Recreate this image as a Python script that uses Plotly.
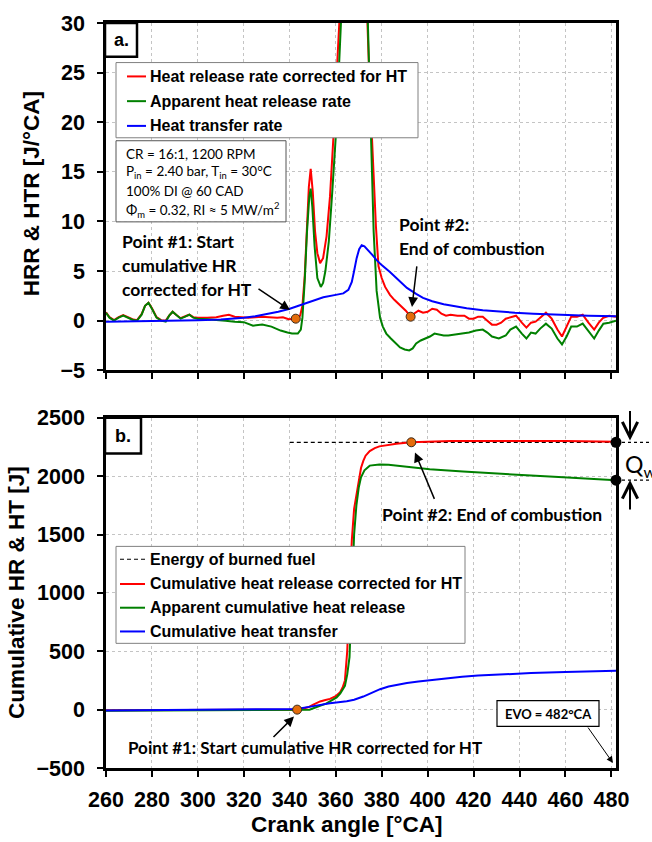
import plotly.graph_objects as go

# ---------------- (a) heat release / heat transfer rates [J/°CA] ----------------
ca_hrr_cor = [
    260, 261.5, 263.5, 265.5, 267.5, 269.5, 271.5, 273.5, 275.5, 277,
    278.5, 280, 282, 284, 286, 287.5, 289, 290.5, 292.5, 294.5,
    296.3, 298, 300, 304, 308, 311, 313.5, 316, 319, 322,
    325, 328, 331, 334.5, 337, 339.5, 342.6, 344.5, 345.5, 346.5,
    347.5, 348.3, 349.1, 350, 351, 352, 353.2, 354.5, 356, 357.5,
    359, 360.5, 362, 364, 366, 368, 370, 372, 373.5, 374.7,
    375.7, 376.5, 377.5, 378.6, 380, 381.5, 383.6, 385.5, 388, 390.5,
    392.6, 394, 396, 398, 400, 402, 404, 406, 408, 410,
    413, 416, 418, 420, 422, 424, 426, 428, 430, 432,
    434, 436, 438.5, 441, 443, 445, 447, 449, 451.5, 454,
    456.5, 458.5, 460.5, 462.5, 465, 467.5, 470, 472.5, 474.5, 476.5,
    479, 482]
hrr_corrected = [
    0.85, 0.35, 0.05, 0.35, 0.55, 0.35, 0.15, 0.05, 0.65, 1.5,
    1.8, 1.25, 0.35, 0.05, 0.0, 0.5, 0.9, 0.6, 0.25, 0.45,
    0.6, 0.35, 0.3, 0.3, 0.35, 0.5, 0.6, 0.4, 0.35, 0.3,
    0.35, 0.4, 0.35, 0.3, 0.35, 0.15, 0.2, 0.5, 1.5, 4.5,
    9.5, 13.5, 15.3, 13.0, 9.0, 6.8, 5.8, 6.3, 8.5, 12.5,
    18.5, 25, 32, 50, 70, 80, 70, 48, 32, 24,
    18.5, 14, 9.5, 5.5, 4.3, 3.4, 2.6, 2.1, 1.6, 1.0,
    0.4, 0.7, 1.0, 0.8, 0.9, 1.2, 1.1, 0.7, 0.5, 0.6,
    0.5, 0.5, 0.2, 0.2, 0.4, 0.4, 0.0, -0.4, -0.4, -0.2,
    0.2, 0.3, 0.5, -0.2, -0.7, -0.2, -0.1, 0.3, 0.8, 0.2,
    -0.9, -1.6, -0.6, 0.4, 0.4, 0.6, -0.2, -0.9, -0.2, 0.3,
    0.5, 0.4]

ca_hrr_app = [
    260, 261.5, 263.5, 265.5, 267.5, 269.5, 271.5, 273.5, 275.5, 277,
    278.5, 280, 282, 284, 286, 287.5, 289, 290.5, 292.5, 294.5,
    296.3, 298, 300, 304, 308, 312, 316, 320, 324, 328,
    332, 336, 339, 341, 343.5, 344.8, 345.5, 346.5, 347.5, 348.5,
    349.1, 349.8, 350.8, 352, 353.5, 354.5, 355.5, 357, 358.5, 360,
    361.5, 363, 365, 367, 369, 371, 373, 374.3, 375.3, 376.5,
    377.8, 379.3, 380.5, 382, 384, 386, 388, 390, 392, 393.5,
    395, 397, 399, 401, 403, 405, 407, 409, 412, 415,
    418, 421, 424, 426, 428, 431, 434, 436, 438.5, 441,
    443, 445, 447, 449, 451.5, 454, 456.5, 458.5, 460.5, 462.5,
    465, 467.5, 470, 472.5, 474.5, 476.5, 479, 482]
hrr_apparent = [
    0.8, 0.3, 0.0, 0.3, 0.5, 0.3, 0.1, 0.0, 0.6, 1.5,
    1.8, 1.2, 0.3, 0.0, -0.1, 0.5, 0.9, 0.6, 0.2, 0.4,
    0.6, 0.3, 0.2, 0.15, 0.1, 0.0, -0.1, -0.15, -0.5, -0.4,
    -0.6, -1.0, -1.2, -1.3, -1.3, -0.9, 0.3, 4.0, 9.0, 12.5,
    13.3, 11.5, 7.5, 4.3, 3.4, 3.8, 5.0, 8.0, 13.0, 18.5,
    26, 33, 45, 60, 65, 55, 38, 27, 18, 9,
    3, 0.3, -0.6, -1.3, -1.8, -2.3, -2.7, -2.9, -3.0, -2.8,
    -2.3, -2.0, -1.8, -1.6, -1.3, -1.4, -1.5, -1.5, -1.4, -1.3,
    -1.2, -1.0, -0.9, -1.2, -1.6, -1.8, -1.5, -0.9, -0.6, -1.3,
    -1.8, -1.2, -1.3, -0.8, -0.3, -0.8, -1.8, -2.4, -1.6, -0.6,
    -0.6, -0.3, -1.0, -1.8, -1.0, -0.3, -0.2, 0.0]

ca_htr = [260, 270, 280, 290, 300, 310, 315, 320, 325, 330,
          335, 340, 344, 348.8, 354.6, 360, 363.3, 365.5, 367, 368,
          369.1, 370.2, 371.3, 372.5, 374.2, 376, 377.8, 380, 383.6, 388,
          391, 395, 398, 402, 407, 412, 417, 424, 431, 438,
          446, 453, 460, 470, 482]
htr = [-0.1, -0.08, -0.05, 0.0, 0.05, 0.12, 0.2, 0.3, 0.45, 0.65,
       0.9, 1.2, 1.5, 1.9, 2.35, 2.6, 2.75, 3.1, 3.9, 5.0,
       6.3, 7.2, 7.6, 7.5, 7.1, 6.6, 6.1, 5.6, 4.9, 3.9,
       3.3, 2.7, 2.3, 1.95, 1.65, 1.45, 1.25, 1.05, 0.9, 0.8,
       0.7, 0.62, 0.55, 0.5, 0.45]

# start of cumulative HR (point #1) and end of combustion (point #2)
pts_ca_a = [342.6, 392.6]
pts_val_a = [0.2, 0.4]

# ---------------- (b) cumulative heat release / heat transfer [J] ----------------
ca_cum_cor = [260, 280, 300, 320, 335, 343.2, 345, 348, 350, 353.2,
              355.5, 357.5, 360, 361.9, 363, 364, 365, 366, 367, 368,
              369, 370, 371, 372, 373, 374.8, 377, 379, 383, 386.4,
              392.9, 400, 410, 420, 440, 460, 482]
cum_hr_corrected = [-5, -5, -3, -2, -1, 0, 5, 20, 40, 70,
                    82, 92, 115, 150, 190, 250, 500, 1000, 1450, 1720,
                    1830, 1950, 2070, 2130, 2175, 2215, 2240, 2255, 2268, 2278,
                    2290, 2296, 2300, 2302, 2302, 2300, 2295]

ca_cum_app = [260, 280, 300, 320, 340, 345, 348.6, 352, 356, 360.4,
              362, 364, 365, 366, 367, 368, 369, 370, 371, 372.5,
              374.8, 377, 379, 383, 386.4, 393, 400.9, 415.4, 430, 445,
              459, 470, 482]
cum_hr_apparent = [-10, -8, -6, -6, -6, -4, 0, 25, 53, 104,
                   140, 203, 300, 450, 1000, 1500, 1750, 1900, 1990, 2050,
                   2090, 2097, 2100, 2097, 2090, 2075, 2060, 2040, 2020, 2005,
                   1990, 1980, 1965]

ca_cum_ht = [260, 280, 300, 320, 330, 337, 343, 350.3, 357.5, 364.8,
             368, 372, 376, 379.3, 383, 386.4, 391, 396, 401, 408,
             415, 422, 430, 445, 460, 470, 482]
cum_ht = [-8, -6, -3, 0, 2, 4, 6, 30, 55, 72,
          85, 112, 145, 175, 198, 212, 228, 240, 252, 268,
          282, 292, 300, 313, 322, 327, 332]

ca_fuel = [340, 482]
fuel_energy = 2290

pts_ca_b = [343.2, 392.9]
pts_val_b = [0, 2290]

evo_ca = 482
qw_levels = [2290, 1965]

ca_ticks = list(range(260, 481, 20))

# ---------------- styling ----------------
RED, GREEN, BLUE = "#ff0000", "#008000", "#0000ff"
ORANGE = "#e46c0a"
ARIAL = "Liberation Sans, Arial, sans-serif"
CAL = "Lato, Carlito, Calibri, sans-serif"

W, H = 652, 842
ML, MR, MT, MB = 106, 36, 15, 74
PW, PH = W - ML - MR, H - MT - MB


def fx(p):
    return (p - ML) / PW


def fy(p):
    return (H - MB - p) / PH


fig = go.Figure()

# panel (a)
fig.add_trace(go.Scatter(x=ca_hrr_cor, y=hrr_corrected, mode="lines",
                         line=dict(color=RED, width=2), xaxis="x", yaxis="y"))
fig.add_trace(go.Scatter(x=ca_hrr_app, y=hrr_apparent, mode="lines",
                         line=dict(color=GREEN, width=2), xaxis="x", yaxis="y"))
fig.add_trace(go.Scatter(x=ca_htr, y=htr, mode="lines",
                         line=dict(color=BLUE, width=2), xaxis="x", yaxis="y"))
fig.add_trace(go.Scatter(x=pts_ca_a, y=pts_val_a, mode="markers",
                         marker=dict(color=ORANGE, size=9, line=dict(color="#3a2a1a", width=1)),
                         xaxis="x", yaxis="y"))

# panel (b)
fig.add_trace(go.Scatter(x=ca_fuel, y=[fuel_energy] * len(ca_fuel), mode="lines",
                         line=dict(color="black", width=1.2, dash="4px,3px"),
                         xaxis="x2", yaxis="y2"))
fig.add_trace(go.Scatter(x=ca_cum_cor, y=cum_hr_corrected, mode="lines",
                         line=dict(color=RED, width=2), xaxis="x2", yaxis="y2"))
fig.add_trace(go.Scatter(x=ca_cum_app, y=cum_hr_apparent, mode="lines",
                         line=dict(color=GREEN, width=2), xaxis="x2", yaxis="y2"))
fig.add_trace(go.Scatter(x=ca_cum_ht, y=cum_ht, mode="lines",
                         line=dict(color=BLUE, width=2), xaxis="x2", yaxis="y2"))
fig.add_trace(go.Scatter(x=pts_ca_b, y=pts_val_b, mode="markers",
                         marker=dict(color=ORANGE, size=9, line=dict(color="#3a2a1a", width=1)),
                         xaxis="x2", yaxis="y2"))
fig.add_trace(go.Scatter(x=[evo_ca] * len(qw_levels), y=qw_levels, mode="markers",
                         marker=dict(color="black", size=11), cliponaxis=False,
                         xaxis="x2", yaxis="y2"))

axis_common = dict(
    showline=True, linecolor="black", linewidth=2.5, mirror=True,
    ticks="outside", ticklen=6, tickwidth=2, tickcolor="black",
    showgrid=True, gridcolor="#c4c4c4", gridwidth=1, griddash="3px,3px",
    zeroline=False,
    tickfont=dict(family=ARIAL, size=21.5, color="black", weight="bold"),
)

fig.update_layout(
    width=W, height=H, autosize=False,
    margin=dict(l=ML, r=MR, t=MT, b=MB),
    paper_bgcolor="white", plot_bgcolor="white",
    showlegend=False,
    xaxis=dict(domain=[0, 1], range=[260, 482], anchor="y", tickvals=ca_ticks,
               showticklabels=False, **axis_common),
    yaxis=dict(domain=[fy(366), 1], range=[-5, 30], anchor="x", dtick=5,
               ticklabelstandoff=8, **axis_common),
    xaxis2=dict(domain=[0, 1], range=[260, 482], anchor="y2", tickvals=ca_ticks,
                ticklabelstandoff=4, **axis_common),
    yaxis2=dict(domain=[0, fy(414)], range=[-500, 2500], anchor="x2", dtick=500,
                ticklabelstandoff=8, **axis_common),
)

shapes = []
ann = []


def box(x0, y0, x1, y1, color="black", width=1):
    shapes.append(dict(type="rect", xref="paper", yref="paper",
                       x0=fx(x0), x1=fx(x1), y0=fy(y1), y1=fy(y0),
                       line=dict(color=color, width=width), fillcolor="white", layer="above"))


def seg(x0, x1, y, color, dash=None, width=2):
    shapes.append(dict(type="line", xref="paper", yref="paper",
                       x0=fx(x0), x1=fx(x1), y0=fy(y), y1=fy(y),
                       line=dict(color=color, width=width, dash=dash), layer="above"))


def text(x, y, s, size, family=CAL, xanchor="left", color="black", angle=0):
    ann.append(dict(xref="paper", yref="paper", x=fx(x), y=fy(y), text=s,
                    showarrow=False, xanchor=xanchor, yanchor="middle", textangle=angle,
                    font=dict(family=family, size=size, color=color)))


def arrow(tx, ty, hx, hy, width=1.5, head=2, size=1.2):
    ann.append(dict(xref="paper", yref="paper", x=fx(hx), y=fy(hy), text="",
                    showarrow=True, ax=tx - hx, ay=ty - hy, arrowcolor="black",
                    arrowwidth=width, arrowhead=head, arrowsize=size, standoff=0))


# panel labels
box(105, 15, 137, 49, width=2.5)
text(121, 32, "<b>a.</b>", 18, ARIAL, "center")
box(105, 414, 141, 450, width=2.5)
text(123, 432, "<b>b.</b>", 18, ARIAL, "center")

# legend (a)
box(116, 55, 418, 131, color="#808080")
for yy, col, lab in [(69, RED, "Heat release rate corrected for HT"),
                     (94, GREEN, "Apparent heat release rate"),
                     (119, BLUE, "Heat transfer rate")]:
    seg(127, 146, yy, col)
    text(148, yy, "<b>" + lab + "</b>", 16, ARIAL)

# operating conditions
box(116, 134, 286, 216, color="#555555")
for yy, s in [(147, "CR = 16:1, 1200 RPM"),
              (166, "P<sub>in</sub> = 2.40 bar, T<sub>in</sub> = 30°C"),
              (185, "100% DI @ 60 CAD"),
              (204, "Φ<sub>m</sub> = 0.32, RI ≈ 5 MW/m<sup>2</sup>")]:
    text(124, yy, s, 13.5)

# point annotations (a)
for yy, s in [(236, "Point #1: Start"), (260, "cumulative HR"), (284, "corrected for HT")]:
    text(120, yy, "<b>" + s + "</b>", 17.5)
arrow(257, 283, 290, 305, size=1.3)
text(397, 219, "<b>Point #2:</b>", 17.5)
text(397, 243, "<b>End of combustion</b>", 17.5)
arrow(417, 260, 412, 302, size=1.3)

# legend (b)
box(116, 544, 465, 642, color="#808080")
for yy, col, dash, lab in [(557, "black", "4px,3px", "Energy of burned fuel"),
                           (582, RED, None, "Cumulative heat release corrected for HT"),
                           (606, GREEN, None, "Apparent cumulative heat release"),
                           (630, BLUE, None, "Cumulative heat transfer")]:
    seg(120, 145, yy, col, dash, 1.2 if dash else 2)
    text(148, yy, "<b>" + lab + "</b>", 16, ARIAL)

# point annotations (b)
text(492, 512, "<b>Point #2: End of combustion</b>", 17.5, xanchor="center")
arrow(435, 497, 415, 449, size=1.3)
text(305, 747, "<b>Point #1: Start cumulative HR corrected for HT</b>", 17, xanchor="center")
arrow(272, 738, 294, 716, size=1.3)

# EVO marker
box(497, 700, 599, 726, color="black", width=1.2)
text(548, 713, "<b>EVO = 482°CA</b>", 13, xanchor="center")
arrow(587, 726, 613, 763, width=1, size=1.3)

# wall heat loss Q_w between the two cumulative curves at EVO
for lvl in qw_levels:
    shapes.append(dict(type="line", xref="paper", yref="y2", x0=1.0, x1=fx(652),
                       y0=lvl, y1=lvl, line=dict(color="black", width=1.2, dash="3px,3px")))
arrow(630, 406, 630, 437, width=2, head=5, size=1.5)
arrow(630, 508, 630, 477, width=2, head=5, size=1.5)
text(623, 462, "Q<sub>w</sub>", 23)

# axis titles
text(31, 188, "<b>HRR & HTR [J/°CA]</b>", 22.5, ARIAL, "center", angle=-90)
text(17, 591, "<b>Cumulative HR & HT [J]</b>", 22.5, ARIAL, "center", angle=-90)
text(347, 825, "<b>Crank angle [°CA]</b>", 22.5, ARIAL, "center")

fig.update_layout(shapes=shapes, annotations=ann)
fig.write_html("out.html")
